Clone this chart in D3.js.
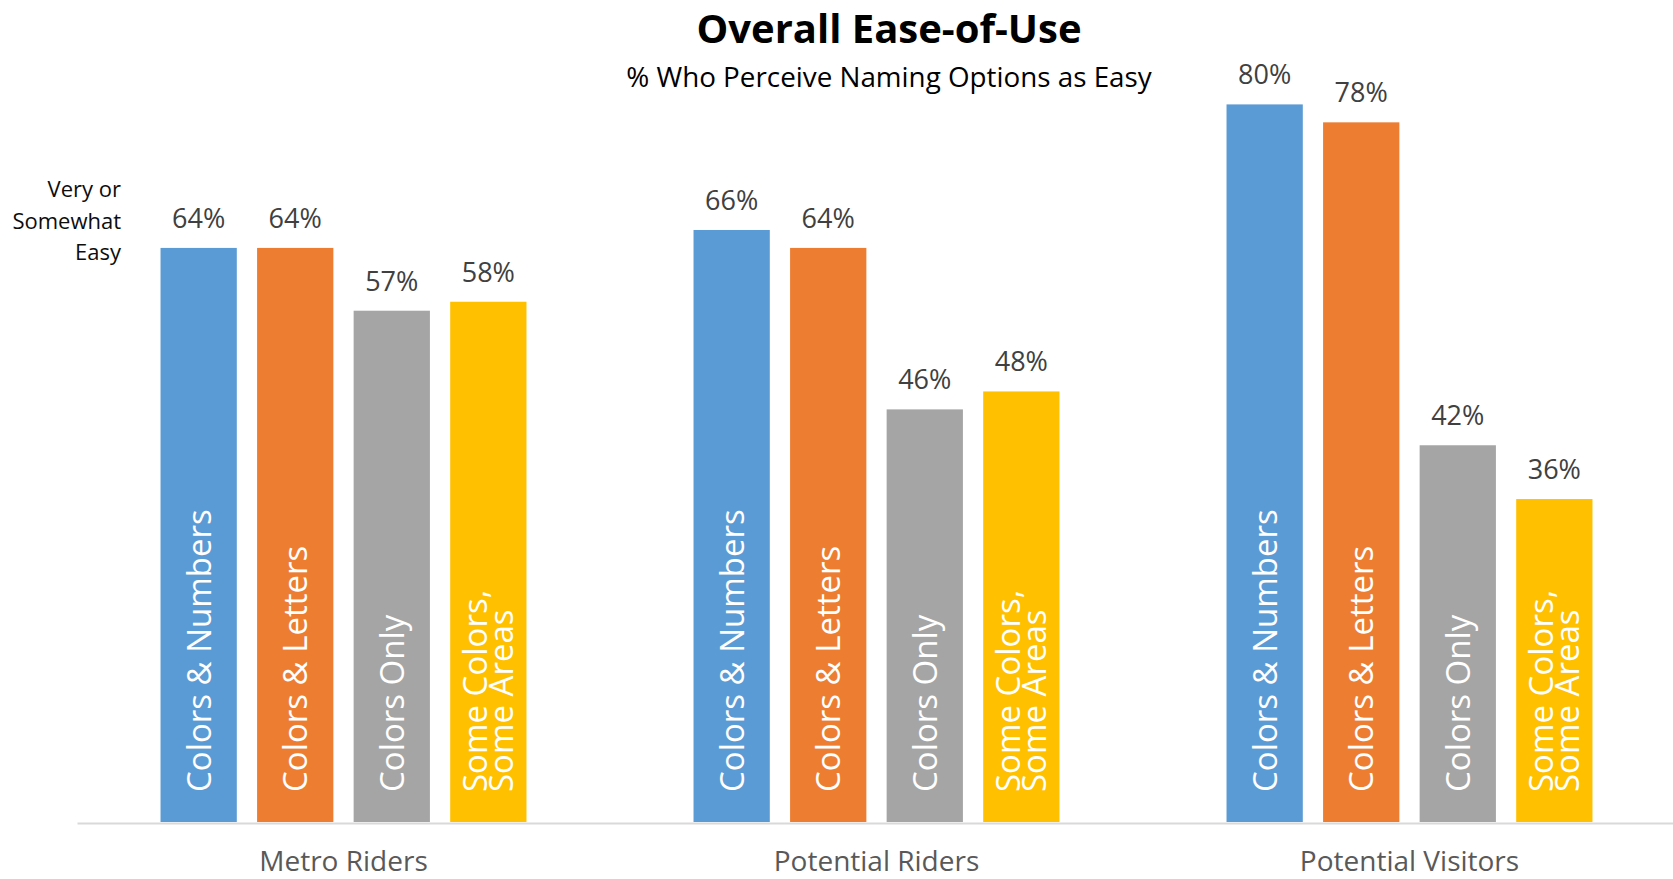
<!DOCTYPE html>
<html>
<head>
<meta charset="utf-8">
<script src="https://cdn.jsdelivr.net/npm/d3@7"></script>
<style>
  body { margin: 0; background: #fff; }
  svg text { font-family: "Open Sans", "Noto Sans", sans-serif; }
</style>
</head>
<body>
<div id="chart"></div>
<script>
// categories and series (percent who say very / somewhat easy)
const groups = ["Metro Riders", "Potential Riders", "Potential Visitors"];
const options = ["Colors & Numbers", "Colors & Letters", "Colors Only", "Some Colors, Some Areas"];
const colorsNumbers = [64, 66, 80];
const colorsLetters = [64, 64, 78];
const colorsOnly = [57, 46, 42];
const someColorsSomeAreas = [58, 48, 36];
const seriesColors = ["#5b9bd5", "#ed7d31", "#a5a5a5", "#ffc000"];
const yLabelLines = ["Very or", "Somewhat", "Easy"];

const series = [colorsNumbers, colorsLetters, colorsOnly, someColorsSomeAreas];

const width = 1673, height = 879;
const baseY = 822;

let svg = d3.select("#chart").append("svg")
    .attr("width", width)
    .attr("height", height);

// scales
let x0 = d3.scaleBand()
    .domain(groups)
    .range([77, 1676])
    .padding(0);

let x1 = d3.scaleBand()
    .domain(options)
    .range([0, x0.bandwidth()])
    .paddingInner(0.21)
    .paddingOuter(0.865);

let y = d3.scaleLinear()
    .domain([0, 90])
    .range([baseY, baseY - 90 * 8.97]);

// flatten into rows for the bars
let rows = [];
groups.forEach((g, gi) => {
    options.forEach((o, oi) => {
        rows.push({group: g, option: o, value: series[oi][gi], color: seriesColors[oi]});
    });
});

// bars
svg.append("g").selectAll("rect")
    .data(rows)
    .enter().append("rect")
    .attr("x", d => x0(d.group) + x1(d.option))
    .attr("y", d => y(d.value))
    .attr("width", x1.bandwidth())
    .attr("height", d => baseY - y(d.value))
    .attr("fill", d => d.color);

// value labels above bars
svg.append("g").selectAll("text")
    .data(rows)
    .enter().append("text")
    .attr("x", d => x0(d.group) + x1(d.option) + x1.bandwidth() / 2)
    .attr("y", d => y(d.value) - 20)
    .attr("text-anchor", "middle")
    .attr("font-size", 27)
    .attr("fill", "#404040")
    .text(d => d.value + "%");

// rotated option names inside the bars
let inBar = svg.append("g").selectAll("text")
    .data(rows)
    .enter().append("text")
    .attr("transform", d => `translate(${x0(d.group) + x1(d.option) + x1.bandwidth() / 2},${baseY - 30}) rotate(-90)`)
    .attr("text-anchor", "start")
    .attr("font-size", 33)
    .attr("fill", "#fff");

inBar.each(function(d) {
    let parts = d.option.includes(", ") ? [d.option.split(", ")[0] + ",", d.option.split(", ")[1]] : [d.option];
    let t = d3.select(this);
    if (parts.length === 1) {
        t.append("tspan").attr("x", 0).attr("y", 12).text(parts[0]);
    } else {
        t.append("tspan").attr("x", 0).attr("y", -1).text(parts[0]);
        t.append("tspan").attr("x", 0).attr("y", 25).text(parts[1]);
    }
});

// category axis
let xAxis = d3.axisBottom(x0).tickSize(0).tickSizeOuter(0).tickPadding(28);
let axisG = svg.append("g")
    .attr("transform", `translate(0,${baseY + 1})`)
    .call(xAxis);
axisG.select(".domain").attr("stroke", "#d9d9d9").attr("stroke-width", 2);
axisG.selectAll("text")
    .attr("font-size", 28)
    .attr("fill", "#595959")
    .style("font-family", "'Open Sans', sans-serif");

// y label
svg.append("g").selectAll("text")
    .data(yLabelLines)
    .enter().append("text")
    .attr("x", 121)
    .attr("y", (d, i) => 197 + i * 31.5)
    .attr("text-anchor", "end")
    .attr("font-size", 22)
    .attr("fill", "#0d0d0d")
    .text(d => d);

// title and subtitle
svg.append("text")
    .attr("x", 889)
    .attr("y", 43)
    .attr("text-anchor", "middle")
    .attr("font-size", 40)
    .attr("font-weight", "bold")
    .attr("fill", "#000")
    .text("Overall Ease-of-Use");

svg.append("text")
    .attr("x", 889)
    .attr("y", 87)
    .attr("text-anchor", "middle")
    .attr("font-size", 27.8)
    .attr("fill", "#000")
    .text("% Who Perceive Naming Options as Easy");
</script>
</body>
</html>
